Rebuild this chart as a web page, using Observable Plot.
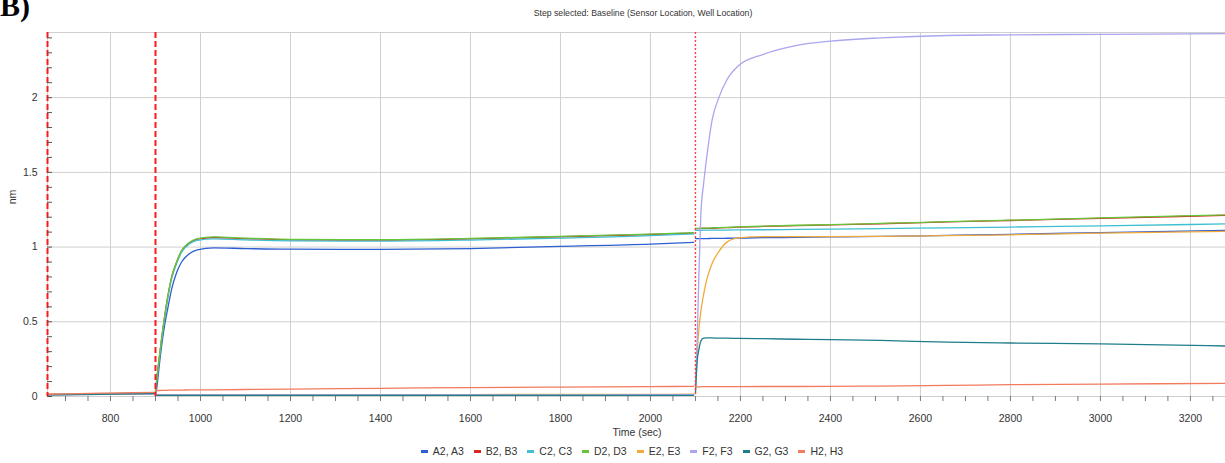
<!DOCTYPE html>
<html><head><meta charset="utf-8">
<script src="https://cdn.jsdelivr.net/npm/d3@7"></script>
<script src="https://cdn.jsdelivr.net/npm/@observablehq/plot@0.6"></script>
<style>
body{margin:0;background:#fff;font-family:"Liberation Sans Narrow","Arial Narrow","Liberation Sans",Arial,sans-serif;color:#333;}
#wrap{position:relative;width:1225px;height:463px;overflow:hidden;background:#fff;}
#chart{position:absolute;left:0;top:0;}
#panel{position:absolute;left:0;top:-9px;font-family:"Liberation Serif","Times New Roman",serif;font-weight:bold;font-size:30px;color:#000;line-height:1;}
#title{position:absolute;left:0;width:1286px;top:8px;text-align:center;font-size:8.7px;color:#333;}
#ylab{position:absolute;left:5px;top:191px;font-size:10.5px;transform:rotate(-90deg);transform-origin:center;}
#xlab{position:absolute;left:0;width:1274px;top:426px;text-align:center;font-size:10.5px;}
#legend{position:absolute;left:0;width:1264px;top:445px;text-align:center;font-size:10.5px;white-space:nowrap;}
.item{display:inline-block;margin:0 5px;}
.sw{display:inline-block;width:7px;height:3px;margin-right:5px;vertical-align:middle;position:relative;top:-1px;}
</style></head><body>
<div id="wrap">
  <div id="chart"></div>
  <div id="panel">B)</div>
  <div id="title">Step selected: Baseline (Sensor Location, Well Location)</div>
  <div id="ylab">nm</div>
  <div id="xlab">Time (sec)</div>
  <div id="legend"></div>
</div>
<script>
// ---- Data ----
const seriesNames  = ["A2, A3","B2, B3","C2, C3","D2, D3","E2, E3","F2, F3","G2, G3","H2, H3"];
const seriesColors = ["#2d5fd2","#d8271f","#40bfd2","#64c43a","#f2aa3c","#aaa5ef","#1f7d8c","#f27b5f"];

// shared time grid (sec) and the step each point belongs to
const times = [660,780,898,
  900,903,906,910,915,920,928,936,947,958,975,993,1030,1100,1200,1400,1600,1800,2000,2096,
  2100,2104,2108,2112,2118,2125,2137,2152,2170,2196,2251,2326,2400,2511,2660,2800,3000,3278];
const steps = [0,0,0,
  1,1,1,1,1,1,1,1,1,1,1,1,1,1,1,1,1,1,1,1,
  2,2,2,2,2,2,2,2,2,2,2,2,2,2,2,2,2,2];

const A2 = [0.012,0.016,0.020,
  0.020,0.060,0.140,0.250,0.370,0.470,0.600,0.720,0.830,0.900,0.955,0.982,0.995,0.990,0.986,0.985,0.990,1.005,1.020,1.032,
  1.058,1.056,1.056,1.057,1.057,1.057,1.058,1.058,1.059,1.060,1.063,1.065,1.068,1.071,1.078,1.085,1.097,1.112];
const B2 = [0.014,0.018,0.022,
  0.030,0.120,0.200,0.300,0.420,0.530,0.680,0.800,0.900,0.975,1.027,1.053,1.064,1.056,1.049,1.047,1.055,1.069,1.084,1.094,
  1.123,1.123,1.124,1.124,1.125,1.125,1.126,1.128,1.130,1.133,1.138,1.144,1.148,1.156,1.168,1.178,1.192,1.212];
const C2 = [0.013,0.017,0.021,
  0.030,0.110,0.190,0.290,0.410,0.520,0.670,0.790,0.890,0.965,1.020,1.045,1.055,1.048,1.042,1.040,1.047,1.060,1.076,1.088,
  1.112,1.112,1.112,1.112,1.113,1.113,1.113,1.114,1.114,1.115,1.116,1.118,1.120,1.124,1.129,1.134,1.142,1.155];
const D2 = [0.013,0.017,0.021,
  0.030,0.120,0.200,0.300,0.420,0.530,0.680,0.800,0.900,0.977,1.030,1.057,1.068,1.060,1.052,1.050,1.058,1.072,1.087,1.097,
  1.125,1.125,1.126,1.126,1.127,1.127,1.128,1.130,1.132,1.135,1.140,1.146,1.150,1.158,1.170,1.180,1.195,1.215];
const E2 = [0.012,0.016,0.020,
  0.012,0.012,0.012,0.012,0.012,0.012,0.012,0.012,0.012,0.012,0.012,0.012,0.012,0.012,0.013,0.013,0.013,0.014,0.014,0.015,
  0.050,0.300,0.460,0.570,0.680,0.780,0.890,0.970,1.033,1.062,1.070,1.070,1.070,1.072,1.076,1.082,1.093,1.105];
const F2 = [0.011,0.015,0.019,
  0.010,0.010,0.010,0.010,0.010,0.010,0.010,0.010,0.010,0.010,0.010,0.010,0.010,0.010,0.011,0.011,0.011,0.011,0.012,0.012,
  0.070,0.400,0.850,1.220,1.420,1.600,1.850,2.000,2.120,2.215,2.290,2.350,2.378,2.400,2.416,2.420,2.424,2.428];
const G2 = [0.011,0.015,0.019,
  0.008,0.008,0.008,0.008,0.008,0.008,0.008,0.008,0.008,0.008,0.008,0.008,0.008,0.008,0.008,0.008,0.007,0.007,0.007,0.007,
  0.020,0.240,0.320,0.370,0.390,0.393,0.392,0.390,0.390,0.389,0.387,0.383,0.380,0.375,0.364,0.358,0.352,0.338];
const H2 = [0.015,0.022,0.028,
  0.040,0.040,0.040,0.040,0.041,0.041,0.042,0.042,0.043,0.043,0.044,0.044,0.045,0.047,0.050,0.055,0.060,0.063,0.066,0.068,
  0.065,0.065,0.065,0.065,0.066,0.066,0.066,0.066,0.066,0.066,0.067,0.067,0.068,0.070,0.074,0.079,0.083,0.088];
const seriesValues = [A2,B2,C2,D2,E2,F2,G2,H2];

// step boundaries (sec) and their line style
const stepStarts = [660, 900, 2100];
const stepSelected = [true, true, false];

// axis ticks
const xTicks = [800,1000,1200,1400,1600,1800,2000,2200,2400,2600,2800,3000,3200];
const yTicks = [0,0.5,1,1.5,2];
const xMinor = d3.range(700, 3251, 50);
const yMinor = d3.range(0, 24.1, 1).map(d => d / 10);

// ---- Build table ----
const rows = [];
seriesNames.forEach((name, si) => {
  seriesValues[si].forEach((v, i) => rows.push({series: name, t: times[i], v, step: steps[i]}));
});
const stepRows = stepStarts.map((t, i) => ({t, sel: stepSelected[i]}));

const font = '"Liberation Sans Narrow","Arial Narrow","Liberation Sans",Arial,sans-serif';
const chart = Plot.plot({
  width: 1225, height: 425,
  marginLeft: 47, marginRight: 0, marginTop: 32, marginBottom: 29,
  x: {domain: [660, 3278]},
  y: {domain: [0, 2.436]},
  color: {domain: seriesNames, range: seriesColors},
  style: {fontFamily: font, fontSize: "10.5px", color: "#333", background: "white", overflow: "visible"},
  marks: [
    Plot.gridX(xTicks, {stroke: "#cfcfcf", strokeOpacity: 1, strokeWidth: 1}),
    Plot.gridY(yTicks, {stroke: "#cfcfcf", strokeOpacity: 1, strokeWidth: 1}),
    Plot.frame({stroke: "#cfcfcf", strokeWidth: 1}),
    Plot.line(rows, {x: "t", y: "v", z: d => d.series + "|" + d.step, stroke: "series",
      strokeWidth: 1.3, curve: "monotone-x"}),
    Plot.ruleX(stepRows.filter(d => d.sel), {x: "t", stroke: "#ff1a1a", strokeWidth: 2, strokeDasharray: "6,3"}),
    Plot.ruleX(stepRows.filter(d => !d.sel), {x: "t", stroke: "#ff4040", strokeWidth: 1.4, strokeDasharray: "2,2"}),
    Plot.axisX(xMinor, {tickSize: 5, text: null, label: null, stroke: "#777"}),
    Plot.axisX(xTicks, {tickSize: 0, tickPadding: 18, label: null, fill: "#333", tickFormat: d => String(d)}),
    Plot.axisY(yMinor, {tickSize: -5, text: null, label: null, stroke: "#555"}),
    Plot.axisY(yTicks, {tickSize: 0, tickPadding: 10, label: null, fill: "#333", tickFormat: d => String(d)})
  ]
});
document.getElementById("chart").appendChild(chart);

// legend
const lg = document.getElementById("legend");
seriesNames.forEach((n, i) => {
  const s = document.createElement("span");
  s.className = "item";
  s.innerHTML = `<span class="sw" style="background:${seriesColors[i]}"></span>${n}`;
  lg.appendChild(s);
});
</script>
</body></html>
